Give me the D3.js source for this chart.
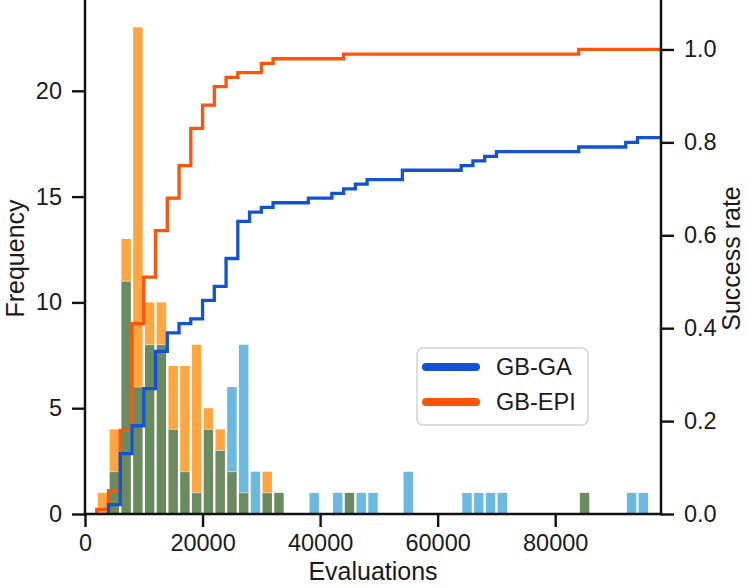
<!DOCTYPE html>
<html><head><meta charset="utf-8">
<script src="https://cdn.jsdelivr.net/npm/d3@7"></script>
<style>body{margin:0;background:#fff}svg{display:block}text{font-family:"Liberation Sans",Arial,sans-serif;fill:#1a1a1a}</style>
</head><body>
<script>
// Histogram bins: left edges of 2000-evaluation bins
const binLeft = [0,2000,4000,6000,8000,10000,12000,14000,16000,18000,20000,22000,24000,26000,28000,30000,32000,34000,36000,38000,40000,42000,44000,46000,48000,50000,52000,54000,56000,58000,60000,62000,64000,66000,68000,70000,72000,74000,76000,78000,80000,82000,84000,86000,88000,90000,92000,94000,96000];
const binWidth = 2000;
const gaCounts  = [0,0,2,11,6,8,8,4,2,1,4,3,6,8,2,1,1,0,0,1,0,1,1,1,1,0,0,2,0,0,0,0,1,1,1,1,0,0,0,0,0,0,1,0,0,0,1,1,0];
const epiCounts = [0,1,4,13,23,10,10,7,7,8,5,4,2,1,0,2,1,0,0,0,0,0,1,0,0,0,0,0,0,0,0,0,0,0,0,0,0,0,0,0,0,0,1,0,0,0,0,0,0];
// Success rate (cumulative) at each bin's left edge
const gaRate  = [0,0,0.02,0.13,0.19,0.27,0.35,0.39,0.41,0.42,0.46,0.49,0.55,0.63,0.65,0.66,0.67,0.67,0.67,0.68,0.68,0.69,0.70,0.71,0.72,0.72,0.72,0.74,0.74,0.74,0.74,0.74,0.75,0.76,0.77,0.78,0.78,0.78,0.78,0.78,0.78,0.78,0.79,0.79,0.79,0.79,0.80,0.81,0.81];
const epiRate = [0,0.01,0.05,0.18,0.41,0.51,0.61,0.68,0.75,0.83,0.88,0.92,0.94,0.95,0.95,0.97,0.98,0.98,0.98,0.98,0.98,0.98,0.99,0.99,0.99,0.99,0.99,0.99,0.99,0.99,0.99,0.99,0.99,0.99,0.99,0.99,0.99,0.99,0.99,0.99,0.99,0.99,1.0,1.0,1.0,1.0,1.0,1.0,1.0];
const xMax = 98000;
const xTicks = [0,20000,40000,60000,80000];
const yLeftTicks = [0,5,10,15,20];
const yRightTicks = [0,0.2,0.4,0.6,0.8,1.0];
const seriesNames = ["GB-GA","GB-EPI"];

const W=748,H=588;
const L=85,R=661,T=3,B=514;
const C = {orange:"#ffa640", blue:"#6bb9e0", both:"#6a8b5d", lineGA:"#1253d3", lineEPI:"#ff530a"};

const svg=d3.select("body").append("svg").attr("width",W).attr("height",H);
const x=d3.scaleLinear().domain([0,xMax]).range([L,R]);
const yL=d3.scaleLinear().domain([0,24.15]).range([B,T]);
const yR=d3.scaleLinear().domain([0,1.1]).range([B,T]);

const bins = binLeft.map((b,i)=>({x0:b,x1:b+binWidth,ga:gaCounts[i],epi:epiCounts[i]}));
const gBars=svg.append("g");
const inset=1.15;
bins.forEach(d=>{
  const lo=Math.min(d.ga,d.epi), hi=Math.max(d.ga,d.epi);
  const xa=x(d.x0)+inset, wdt=x(d.x1)-x(d.x0)-2*inset;
  if(hi>lo){
    gBars.append("rect").attr("x",xa).attr("width",wdt).attr("y",yL(hi)).attr("height",yL(lo)-yL(hi))
      .attr("fill", d.epi>d.ga?C.orange:C.blue);
  }
  if(lo>0){
    gBars.append("rect").attr("x",xa).attr("width",wdt).attr("y",yL(lo)).attr("height",yL(0)-yL(lo)).attr("fill",C.both);
    if(hi>lo) gBars.append("line").attr("x1",xa).attr("x2",xa+wdt).attr("y1",yL(lo)).attr("y2",yL(lo))
      .attr("stroke","#fff").attr("stroke-opacity",0.45).attr("stroke-width",1);
  }
});

function stepPts(rate){
  const i0=rate.findIndex(v=>v>0);
  const pts=[[binLeft[i0],0]];
  for(let i=i0;i<rate.length;i++) pts.push([binLeft[i],rate[i]]);
  pts.push([xMax,rate[rate.length-1]]);
  return pts;
}
const line=d3.line().x(d=>x(d[0])).y(d=>yR(d[1])).curve(d3.curveStepAfter);
svg.append("path").attr("d",line(stepPts(epiRate))).attr("fill","none").attr("stroke",C.lineEPI).attr("stroke-width",3.3);
svg.append("path").attr("d",line(stepPts(gaRate))).attr("fill","none").attr("stroke",C.lineGA).attr("stroke-width",3.3);

// axes
const fs=23.5;
const axB=svg.append("g").attr("transform",`translate(0,${B})`).call(d3.axisBottom(x).tickValues(xTicks).tickFormat(d3.format("d")).tickSize(13).tickPadding(7));
const axL=svg.append("g").attr("transform",`translate(${L},0)`).call(d3.axisLeft(yL).tickValues(yLeftTicks).tickSize(13).tickPadding(10));
const axR=svg.append("g").attr("transform",`translate(${R},0)`).call(d3.axisRight(yR).tickValues(yRightTicks).tickFormat(d3.format(".1f")).tickSize(13).tickPadding(10));
[axB,axL,axR].forEach(a=>{
  a.select(".domain").remove();
  a.selectAll(".tick line").attr("stroke","#111").attr("stroke-width",2.4);
  a.selectAll(".tick text").attr("font-size",fs).attr("fill","#1a1a1a").style("font-family",'"Liberation Sans",Arial,sans-serif');
});
// spines
svg.append("line").attr("x1",L).attr("x2",L).attr("y1",T-3).attr("y2",B+1.2).attr("stroke","#111").attr("stroke-width",2.5);
svg.append("line").attr("x1",R).attr("x2",R).attr("y1",T-3).attr("y2",B+1.2).attr("stroke","#111").attr("stroke-width",2.5);
svg.append("line").attr("x1",L-1.2).attr("x2",R+1.2).attr("y1",B).attr("y2",B).attr("stroke","#111").attr("stroke-width",2.5);

// axis labels
const lf=25;
svg.append("text").attr("x",(L+R)/2).attr("y",580).attr("text-anchor","middle").attr("font-size",lf).text("Evaluations");
svg.append("text").attr("transform",`translate(24,${(T+B)/2}) rotate(-90)`).attr("text-anchor","middle").attr("font-size",lf).text("Frequency");
svg.append("text").attr("transform",`translate(740,${(T+B)/2}) rotate(-90)`).attr("text-anchor","middle").attr("font-size",lf).text("Success rate");

// legend
const lg=svg.append("g");
lg.append("rect").attr("x",417).attr("y",348).attr("width",171).attr("height",77).attr("rx",6)
  .attr("fill","#fff").attr("fill-opacity",0.85).attr("stroke","#cfd4d6").attr("stroke-width",1.5);
[C.lineGA,C.lineEPI].forEach((c,i)=>{
  const yy=367+i*35;
  lg.append("line").attr("x1",426).attr("x2",476).attr("y1",yy).attr("y2",yy).attr("stroke",c).attr("stroke-width",8).attr("stroke-linecap","round");
  lg.append("text").attr("x",496).attr("y",yy).attr("dy","0.36em").attr("font-size",23.5).text(seriesNames[i]);
});
</script>
</body></html>
